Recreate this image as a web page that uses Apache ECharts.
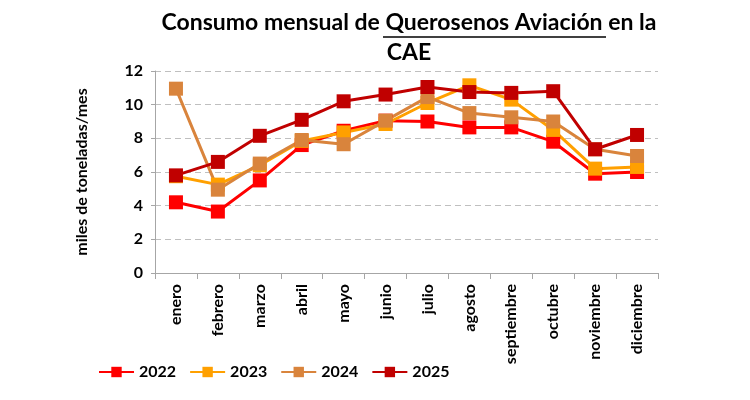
<!DOCTYPE html>
<html><head><meta charset="utf-8">
<script src="https://cdn.jsdelivr.net/npm/echarts@6/dist/echarts.min.js"></script>
<style>html,body{margin:0;padding:0;background:#fff}#c{width:750px;height:400px}</style>
</head><body><div id="c"></div>
<script>
const months = ['enero','febrero','marzo','abril','mayo','junio','julio','agosto','septiembre','octubre','noviembre','diciembre'];
const v2022 = [4.2, 3.65, 5.5, 7.6, 8.45, 9.05, 9.0, 8.65, 8.65, 7.8, 5.9, 6.0];
const v2023 = [5.75, 5.25, 6.4, 7.85, 8.35, 8.85, 10.1, 11.15, 10.3, 8.5, 6.2, 6.3];
const v2024 = [10.95, 4.95, 6.5, 7.9, 7.65, 9.05, 10.45, 9.5, 9.25, 9.0, 7.35, 6.95];
const v2025 = [5.8, 6.6, 8.15, 9.1, 10.2, 10.6, 11.05, 10.75, 10.7, 10.8, 7.35, 8.2];
const years = ['2022','2023','2024','2025'];
const colors = ['#FF0000','#FFA000','#D9843C','#C00000'];
const font = 'Lato';
const chart = echarts.init(document.getElementById('c'));
const all = [v2022, v2023, v2024, v2025];
chart.setOption({
  animation: false,
  textStyle: {fontFamily: font},
  title: {
    text: 'Consumo mensual de Querosenos Aviación en la\nCAE',
    left: 404, textAlign: 'center', top: 3,
    textStyle: {fontFamily: font, fontWeight: 'bold', fontSize: 23, color: '#000', lineHeight: 30}
  },
  graphic: [{
    type: 'line', shape: {x1: 383, y1: 37, x2: 606, y2: 37},
    style: {stroke: '#000', lineWidth: 1.5}
  }],
  legend: {
    bottom: 15, left: 93, itemGap: 13, itemWidth: 35, itemHeight: 13,
    textStyle: {fontFamily: font, fontWeight: 'bold', fontSize: 16, color: '#000'},
    data: years
  },
  grid: {left: 155, right: 92, top: 71, bottom: 127},
  xAxis: {
    type: 'category', data: months, boundaryGap: true,
    axisLine: {lineStyle: {color: '#a6a6a6'}},
    axisTick: {show: true, length: 6, lineStyle: {color: '#a6a6a6'}},
    axisLabel: {rotate: 90, fontFamily: font, fontWeight: 'bold', fontSize: 16, color: '#000', margin: 11}
  },
  yAxis: {
    type: 'value', min: 0, max: 12, interval: 2,
    name: 'miles de toneladas/mes', nameLocation: 'middle', nameGap: 65, nameRotate: 90,
    nameTextStyle: {fontFamily: font, fontWeight: 'bold', fontSize: 16, color: '#000'},
    axisLine: {show: true, lineStyle: {color: '#a6a6a6'}},
    axisTick: {show: true, length: 4, lineStyle: {color: '#a6a6a6'}},
    axisLabel: {fontFamily: font, fontWeight: 'bold', fontSize: 16, color: '#000', margin: 12},
    splitLine: {lineStyle: {color: '#bfbfbf', type: [6, 4], width: 1}}
  },
  series: years.map((y, i) => ({
    name: y, type: 'line', data: all[i],
    symbol: 'rect', symbolSize: 14,
    lineStyle: {color: colors[i], width: 3},
    itemStyle: {color: colors[i]}
  }))
});
</script></body></html>
